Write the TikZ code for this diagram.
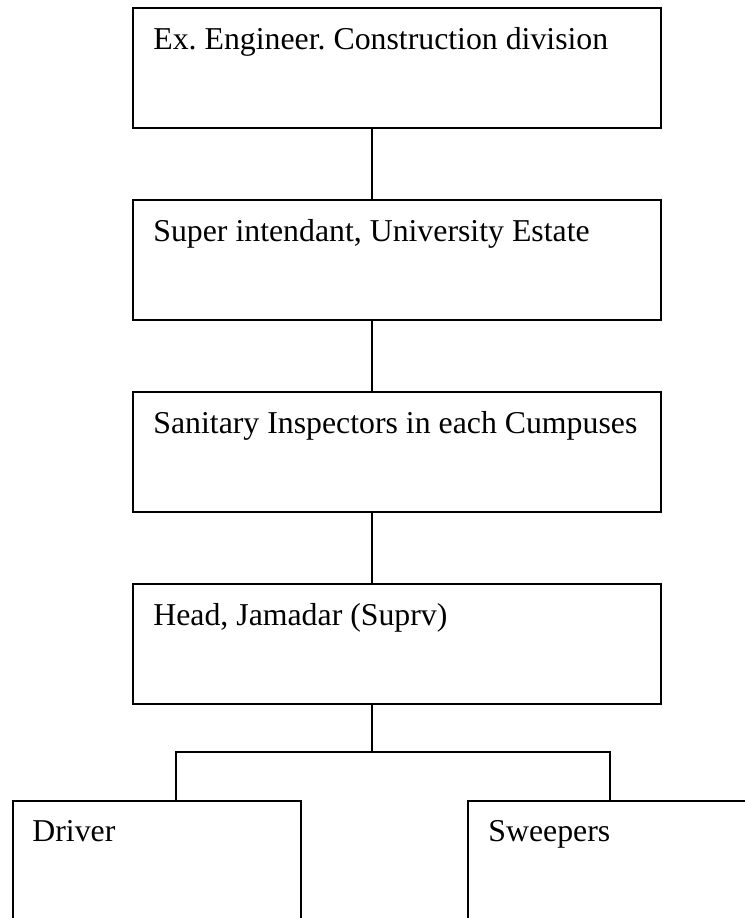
\documentclass[tikz,border=0pt]{standalone}
\usepackage{fontspec}
\setmainfont{Liberation Serif}
\usetikzlibrary{calc}
\frenchspacing
\begin{document}
\begin{tikzpicture}[x=0.5pt,y=-0.5pt,
  box/.style={draw, line width=0.85pt, rectangle, inner sep=0pt, anchor=north west, minimum height=60pt},
  wide/.style={box, minimum width=264pt},
  lbl/.style={anchor=base west, inner sep=0pt, font=\fontsize{15.9}{19}\selectfont\frenchspacing},
  conn/.style={line width=0.85pt}]
\useasboundingbox (0,0) rectangle (745,918);
\fill[white] (0,0) rectangle (745,918);
\clip (0,0) rectangle (745,918);
% boxes
\node[wide] (b1) at (132,7) {};
\node[wide] (b2) at (132,199) {};
\node[wide] (b3) at (132,391) {};
\node[wide] (b4) at (132,583) {};
\node[box, minimum width=144pt, minimum height=70pt] (drv) at (12,800) {};
\node[box, minimum width=200pt, minimum height=70pt] (sw) at (467,800) {};
% labels
\node[lbl] (t1) at ($(b1.north west)+(21,42.5)$) {Ex. Engineer. Construction division};
\node[lbl] (t2) at ($(b2.north west)+(21,42.5)$) {Super intendant, University Estate};
\node[lbl] (t3) at ($(b3.north west)+(21,42.5)$) {Sanitary Inspectors in each Cumpuses};
\node[lbl] (t4) at ($(b4.north west)+(21,42)$) {Head, Jamadar (Suprv)};
\node[lbl] (t5) at ($(drv.north west)+(20,41)$) {Driver};
\node[lbl] (t6) at ($(sw.north west)+(21,41)$) {Sweepers};
% connectors
\coordinate (spine) at (372,0);
\coordinate (dl) at (176,752);
\coordinate (dr) at (610,752);
\draw[conn] (b1.south -| spine) -- (b2.north -| spine);
\draw[conn] (b2.south -| spine) -- (b3.north -| spine);
\draw[conn] (b3.south -| spine) -- (b4.north -| spine);
\draw[conn] (b4.south -| spine) -- (spine |- dl);
\draw[conn] (drv.north -| dl) -- (dl) -- (dr) -- (sw.north -| dr);
\end{tikzpicture}
\end{document}
